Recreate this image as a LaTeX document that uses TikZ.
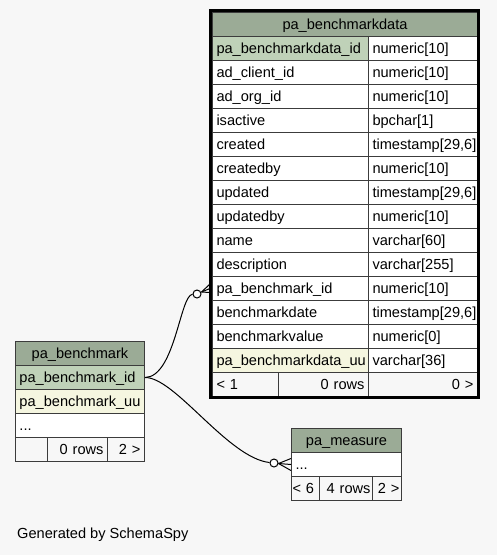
\documentclass[tikz,border=0pt]{standalone}
\usepackage{fontspec}
\setmainfont{Liberation Sans}
\usetikzlibrary{calc}
\definecolor{bgc}{HTML}{F7F7F7}
\definecolor{hdrgreen}{HTML}{9BAB96}
\definecolor{pkgreen}{HTML}{BFD1B8}
\definecolor{uuyellow}{HTML}{F5F6E0}
\definecolor{cellgray}{HTML}{3C3C3C}
\newcommand\tf{\fontsize{14.6}{17}\selectfont}
\tikzset{
  cell/.style={draw=cellgray, line width=1pt, anchor=north west, minimum height=24pt,
    inner xsep=4pt, inner ysep=0pt, font=\tf, text height=12pt, text depth=1.5pt, align=left, fill=white},
  hdr/.style={cell, fill=hdrgreen, align=center},
  pk/.style={cell, fill=pkgreen},
  uu/.style={cell, fill=uuyellow},
  foot/.style={cell, fill=bgc},
  footr/.style={foot, align=right},
  link/.style={draw=black, line width=1pt},
  opt/.style={circle, draw=black, line width=1pt, fill=white, minimum size=8pt, inner sep=0pt}
}
\begin{document}
\begin{tikzpicture}[x=1pt, y=-1pt]
\fill[bgc] (0,0) rectangle (497,555);
\useasboundingbox (0,0) rectangle (497,555);

% ---- pa_benchmarkdata ----
\node[hdr, text width=257pt] (bdh) at (212,12) {pa\_benchmarkdata};
\node[pk, text width=148pt] (bd1) at (212,36) {pa\_benchmarkdata\_id};
\node[cell, text width=101pt] (bd1t) at (368,36) {numeric[10]};
\node[cell, text width=148pt] (bd2) at (212,60) {ad\_client\_id};
\node[cell, text width=101pt] (bd2t) at (368,60) {numeric[10]};
\node[cell, text width=148pt] (bd3) at (212,84) {ad\_org\_id};
\node[cell, text width=101pt] (bd3t) at (368,84) {numeric[10]};
\node[cell, text width=148pt] (bd4) at (212,108) {isactive};
\node[cell, text width=101pt] (bd4t) at (368,108) {bpchar[1]};
\node[cell, text width=148pt] (bd5) at (212,132) {created};
\node[cell, text width=101pt] (bd5t) at (368,132) {timestamp[29,6]};
\node[cell, text width=148pt] (bd6) at (212,156) {createdby};
\node[cell, text width=101pt] (bd6t) at (368,156) {numeric[10]};
\node[cell, text width=148pt] (bd7) at (212,180) {updated};
\node[cell, text width=101pt] (bd7t) at (368,180) {timestamp[29,6]};
\node[cell, text width=148pt] (bd8) at (212,204) {updatedby};
\node[cell, text width=101pt] (bd8t) at (368,204) {numeric[10]};
\node[cell, text width=148pt] (bd9) at (212,228) {name};
\node[cell, text width=101pt] (bd9t) at (368,228) {varchar[60]};
\node[cell, text width=148pt] (bd10) at (212,252) {description};
\node[cell, text width=101pt] (bd10t) at (368,252) {varchar[255]};
\node[cell, text width=148pt] (bd11) at (212,276) {pa\_benchmark\_id};
\node[cell, text width=101pt] (bd11t) at (368,276) {numeric[10]};
\node[cell, text width=148pt] (bd12) at (212,300) {benchmarkdate};
\node[cell, text width=101pt] (bd12t) at (368,300) {timestamp[29,6]};
\node[cell, text width=148pt] (bd13) at (212,324) {benchmarkvalue};
\node[cell, text width=101pt] (bd13t) at (368,324) {numeric[0]};
\node[uu, text width=148pt] (bd14) at (212,348) {pa\_benchmarkdata\_uu};
\node[cell, text width=101pt] (bd14t) at (368,348) {varchar[36]};
\node[foot, text width=58pt] (bdf1) at (212,372) {< 1};
\node[footr, text width=82pt] (bdf2) at (278,372) {0 rows};
\node[footr, text width=101pt] (bdf3) at (368,372) {0 >};
\draw[line width=3pt] (210.5,10.5) rectangle (478.5,397.5);

% ---- pa_benchmark ----
\node[hdr, text width=121pt] (bh) at (15,341) {pa\_benchmark};
\node[pk, text width=121pt] (bpid) at (15,365) {pa\_benchmark\_id};
\node[uu, text width=121pt] (buu) at (15,389) {pa\_benchmark\_uu};
\node[cell, text width=121pt] (bdots) at (15,413) {...};
\node[foot, text width=24pt] (bf1) at (15,437) {};
\node[footr, text width=52pt] (bf2) at (47,437) {0 rows};
\node[footr, text width=29pt] (bf3) at (107,437) {2 >};

% ---- pa_measure ----
\node[hdr, text width=102pt] (mh) at (291,428) {pa\_measure};
\node[cell, text width=102pt] (mdots) at (291,452) {...};
\node[foot, inner xsep=1pt, text width=26pt] (mf1) at (291,476) {< 6};
\node[footr, inner xsep=2pt, text width=49pt] (mf2) at (319,476) {4 rows};
\node[footr, inner xsep=2pt, text width=25pt] (mf3) at (372,476) {2 >};

% ---- connectors ----
\node[opt] (c1) at (197,294) {};
\node[opt] (c2) at (274,463) {};
\draw[link] (bpid.east) .. controls (175,377) and (180,295) .. (c1);
\draw[link] (bpid.east) .. controls (175,377) and (228,458) .. (c2);
\coordinate (v1) at (201.5,292);
\draw[link] (v1) -- ($(bd11.west)+(-2,-4.5)$);
\draw[link] (v1) -- ($(bd11.west)+(-2,0)$);
\draw[link] (v1) -- ($(bd11.west)+(-2,4)$);
\coordinate (v2) at (278.5,463.5);
\draw[link] (v2) -- ($(mdots.west)+(0,-6)$);
\draw[link] (v2) -- ($(mdots.west)+(0,0)$);
\draw[link] (v2) -- ($(mdots.west)+(0,6)$);

\node[font=\tf, anchor=west, inner sep=0pt] (gen) at (17,535) {Generated by SchemaSpy};
\end{tikzpicture}
\end{document}
